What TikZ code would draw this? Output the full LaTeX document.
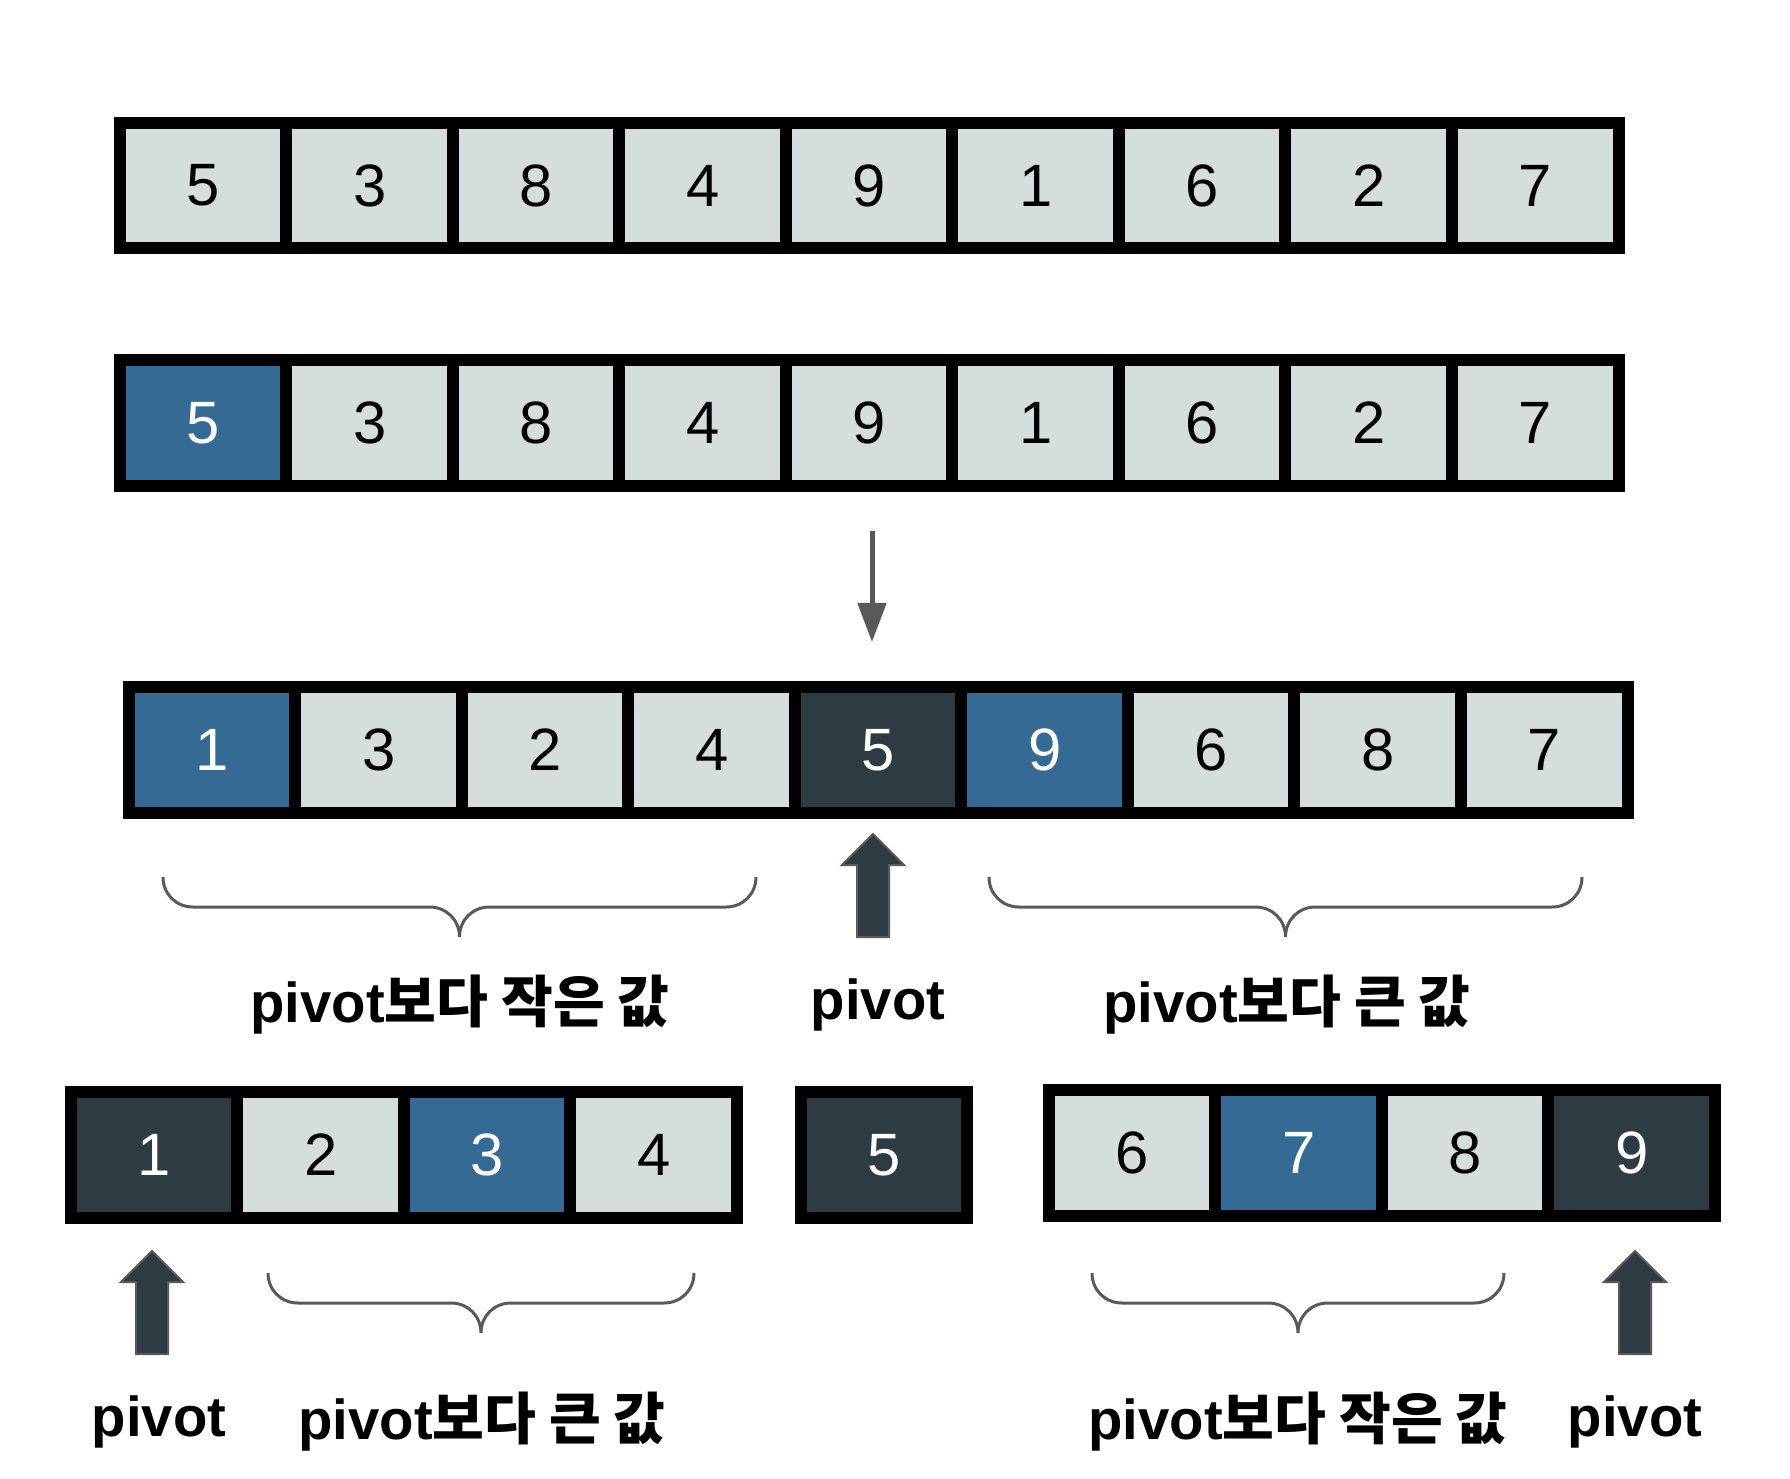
\documentclass[tikz,border=0pt]{standalone}
\usepackage{fontspec}
\setmainfont{Liberation Sans}
\newfontfamily\kr{Noto Sans CJK KR}
\usetikzlibrary{arrows.meta}
\definecolor{cellL}{HTML}{D4DFDD}
\definecolor{cellB}{HTML}{346A93}
\definecolor{cellD}{HTML}{2D3B43}
\definecolor{lineG}{HTML}{595959}
\begin{document}
\begin{tikzpicture}[x=0.01cm,y=-0.01cm,
  cell/.style={draw=black, line width=0.12cm, minimum width=1.665cm, minimum height=1.25cm, inner sep=0pt, font=\fontsize{17}{17}\selectfont},
  lt/.style={cell, fill=cellL, text=black},
  bl/.style={cell, fill=cellB, text=white},
  dk/.style={cell, fill=cellD, text=white},
  brc/.style={draw=lineG, line width=0.03cm},
  blockarr/.style={fill=cellD, draw=lineG, line width=0.02cm},
  thinarr/.style={draw=lineG, line width=0.05cm, -{Triangle[length=0.39cm, width=0.28cm]}},
  lbl/.style={font=\fontsize{16}{16}\selectfont\bfseries, inner sep=0pt}]
\useasboundingbox (0,0) rectangle (1790,1478);
% row 1
\foreach \v/\s [count=\i from 0] in {5/lt,3/lt,8/lt,4/lt,9/lt,1/lt,6/lt,2/lt,7/lt}
  \node[\s] (ra\i) at (203.25+166.5*\i,185.5) {\v};
% row 2
\foreach \v/\s [count=\i from 0] in {5/bl,3/lt,8/lt,4/lt,9/lt,1/lt,6/lt,2/lt,7/lt}
  \node[\s] (rb\i) at (203.25+166.5*\i,423) {\v};
% row 3
\foreach \v/\s [count=\i from 0] in {1/bl,3/lt,2/lt,4/lt,5/dk,9/bl,6/lt,8/lt,7/lt}
  \node[\s] (rc\i) at (212.25+166.5*\i,750) {\v};
% bottom left
\foreach \v/\s [count=\i from 0] in {1/dk,2/lt,3/bl,4/lt}
  \node[\s] (dl\i) at (154.25+166.5*\i,1155) {\v};
% bottom middle
\node[dk] (dm) at (884,1155) {5};
% bottom right
\foreach \v/\s [count=\i from 0] in {6/lt,7/bl,8/lt,9/dk}
  \node[\s] (dr\i) at (1132.25+166.5*\i,1153) {\v};
% thin down arrow
\coordinate (dtop) at (872,531);
\coordinate (dtip) at (872,642);
\draw[thinarr] (dtop) -- (dtip);
% block arrows
\coordinate (pa) at (873,834);
\coordinate (pb) at (152,1251);
\coordinate (pc) at (1635,1251);
\foreach \n in {pa,pb,pc}
  \draw[blockarr] (\n) -- ++(31,31) -- ++(-15,0) -- ++(0,72) -- ++(-32,0) -- ++(0,-72) -- ++(-15,0) -- cycle;
% braces
\newcommand\mybrace[3]{% left, right, top
  \pgfmathsetmacro\bC{(#1+#2)/2}
  \draw[brc] (#1,#3) .. controls (#1,#3+17) and (#1+13,#3+30) .. (#1+30,#3+30)
    -- (\bC-30,#3+30) .. controls (\bC-13,#3+30) and (\bC,#3+43) .. (\bC,#3+60)
    .. controls (\bC,#3+43) and (\bC+13,#3+30) .. (\bC+30,#3+30)
    -- (#2-30,#3+30) .. controls (#2-13,#3+30) and (#2,#3+17) .. (#2,#3);}
\mybrace{163}{756}{877}
\mybrace{989}{1582}{877}
\mybrace{268}{694}{1273}
\mybrace{1092}{1504}{1273}
% labels
\node[lbl] (l1) at (460,1005) {pivot{\kr 보다 작은 값}};
\node[lbl] (l2) at (878,1005) {pivot};
\node[lbl] (l3) at (1287,1005) {pivot{\kr 보다 큰 값}};
\node[lbl] (l4) at (159,1422) {pivot};
\node[lbl] (l5) at (482,1422) {pivot{\kr 보다 큰 값}};
\node[lbl] (l6) at (1298,1422) {pivot{\kr 보다 작은 값}};
\node[lbl] (l7) at (1635,1422) {pivot};
\end{tikzpicture}
\end{document}
